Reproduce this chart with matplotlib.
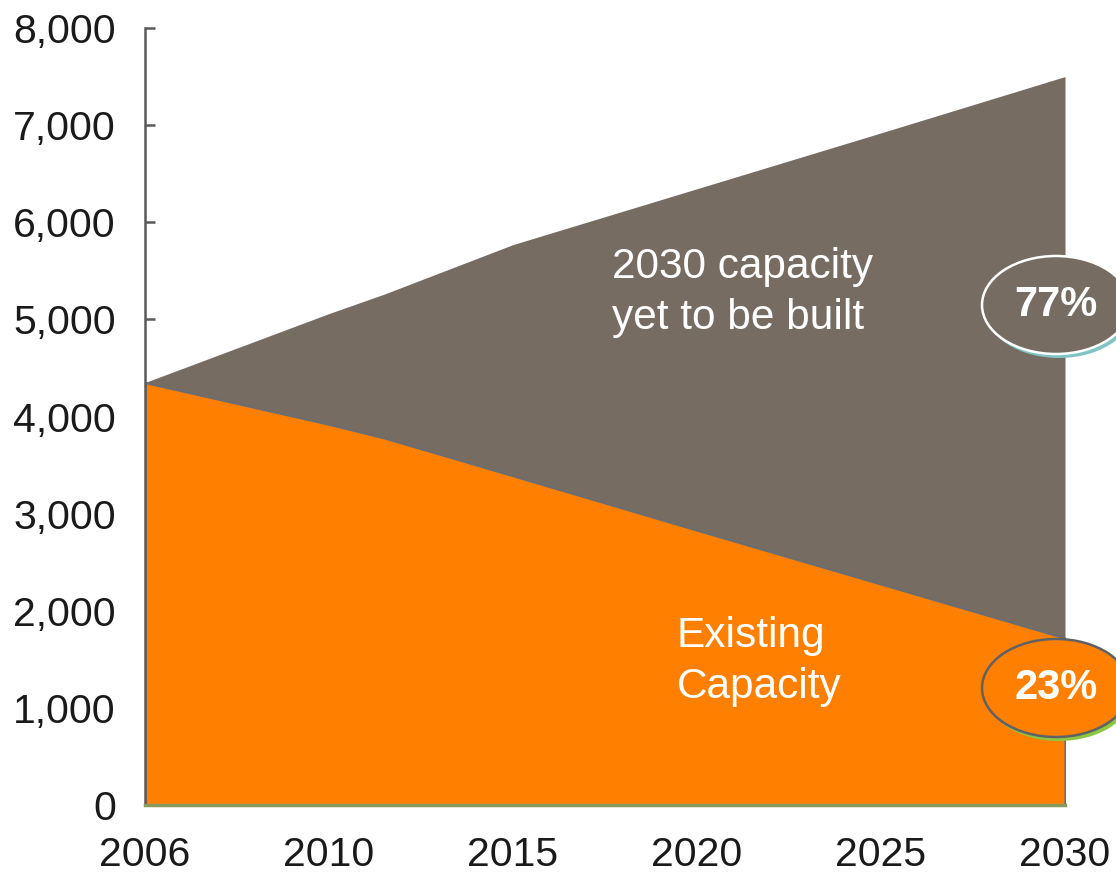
import numpy as np
import matplotlib
matplotlib.use("Agg")
from matplotlib import pyplot as plt
from matplotlib.patches import Ellipse
from matplotlib.ticker import FuncFormatter

# data (MW)
years = [2006, 2010, 2011.5, 2015, 2020, 2025, 2030]
total_capacity = [4350, 5060, 5260, 5770, 6345, 6920, 7500]
existing_capacity = [4350, 3920, 3780, 3390, 2830, 2275, 1720]

tick_years = [2006, 2010, 2015, 2020, 2025, 2030]
y_ticks = [0, 1000, 2000, 3000, 4000, 5000, 6000, 7000, 8000]

share_new = "77%"
share_existing = "23%"

GREY = "#766c62"
ORANGE = "#ff8000"
EDGE = "#6b6d70"

plt.rcParams["font.family"] = ["Liberation Sans", "DejaVu Sans"]

W, H = 1116, 873
fig = plt.figure(figsize=(W / 100, H / 100), dpi=100)
ax = fig.add_axes([145 / W, 1 - 805 / H, 920 / W, 777 / H])

# tick years are evenly spaced on the original axis
idx = np.arange(len(tick_years))
ax.set_xscale(
    "function",
    functions=(lambda x: np.interp(x, tick_years, idx), lambda p: np.interp(p, idx, tick_years)),
)

ax.fill_between(years, 0, total_capacity, color=GREY, linewidth=0, zorder=1)
ax.fill_between(years, 0, existing_capacity, facecolor=ORANGE, edgecolor=EDGE, linewidth=1.6, zorder=2)

ax.set_xlim(2006, 2030)
ax.set_ylim(0, 8000)
ax.set_xticks(tick_years)
ax.set_xticklabels([str(y) for y in tick_years])
ax.set_yticks(y_ticks)
ax.yaxis.set_major_formatter(FuncFormatter(lambda v, _: f"{int(v):,}"))

for side in ["top", "right"]:
    ax.spines[side].set_visible(False)
ax.spines["left"].set_color("#5a5a5a")
ax.spines["left"].set_linewidth(1.8)
ax.spines["bottom"].set_color("#8a9a5b")
ax.spines["bottom"].set_linewidth(2.5)

ax.tick_params(axis="y", direction="in", length=7, width=1.8, color="#5a5a5a",
               pad=21, labelsize=29.5, labelcolor="#1a1a1a")
ax.tick_params(axis="x", direction="in", length=2, width=1, color="#5a5a5a",
               pad=22, labelsize=29.5, labelcolor="#1a1a1a")

# area labels
ax.text(2017.7, 5280, "2030 capacity\nyet to be built", color="white", fontsize=30.5,
        ha="left", va="center", linespacing=1.35, zorder=3)
ax.text(2019.45, 1480, "Existing\nCapacity", color="white", fontsize=30.5,
        ha="left", va="center", linespacing=1.35, zorder=3)

# percentage bubbles on the right edge
bubbles = [
    (share_new, 305, GREY, "white", "#7fc4c4"),
    (share_existing, 688, ORANGE, "#5e6266", "#8dc63f"),
]
for label, cy, face, edge, shadow in bubbles:
    cx = 1056
    fig.patches.append(Ellipse(((cx + 3) / W, 1 - (cy + 4) / H), 148 / W, 98 / H,
                               transform=fig.transFigure, facecolor=shadow, edgecolor="none", zorder=5))
    fig.patches.append(Ellipse((cx / W, 1 - cy / H), 148 / W, 98 / H,
                               transform=fig.transFigure, facecolor=face, edgecolor=edge,
                               linewidth=1.8, zorder=6))
    fig.text(cx / W, 1 - cy / H, label, color="white", fontsize=30, fontweight="bold",
             ha="center", va="center", zorder=7)

fig.savefig("out.png", dpi=100)
